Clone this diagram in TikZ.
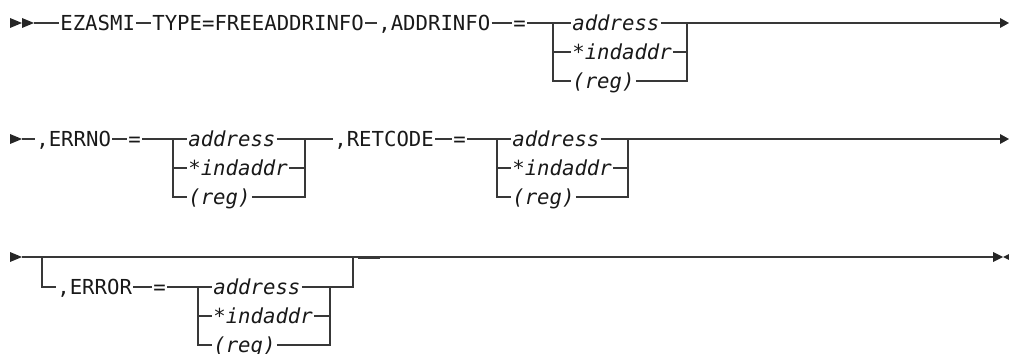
\documentclass[tikz,border=0pt]{standalone}
\usepackage{fontspec}
\newfontfamily\railfont{DejaVu Sans Mono}
\usetikzlibrary{positioning}

\tikzset{
  rail/.style={draw=black!78, line width=1.15pt},
  tip/.style={fill=black!85},
  kw/.style={font=\railfont\fontsize{15.5}{17}\selectfont, text=black!90, inner sep=0pt, inner xsep=0.8pt, text height=11.3pt, text depth=0pt, anchor=west},
  var/.style={kw, font=\railfont\itshape\fontsize{15.5}{17}\selectfont},
}

\begin{document}
\begin{tikzpicture}[x=0.75pt, y=-0.75pt]
    \useasboundingbox (0,0) rectangle (1009,353);

    % first line
    \fill[tip] (10,18) -- (22,23) -- (10,28) -- cycle;
    \fill[tip] (22,18) -- (34,23) -- (22,28) -- cycle;
    \coordinate (start1) at (34,23);
    \node[kw] (ezasmi) at (59,23) {EZASMI};
    \node[kw] (type) at (151,23) {TYPE=FREEADDRINFO};
    \node[kw] (addrinfo) at (377,23) {,ADDRINFO};
    \node[kw] (eqA) at (512,23) {=};
    \node[var] (addrA) at (571,23) {address};
    \node[var] (indA) at (571,52) {*indaddr};
    \node[var] (regA) at (571,81) {(reg)};
    \coordinate (forkA) at (553,23);
    \coordinate (joinA) at (687,23);
    \coordinate (end1) at (1000,23);
    \fill[tip] (1000,18) -- (1009,23) -- (1000,28) -- cycle;

    \draw[rail] (start1) -- (ezasmi);
    \draw[rail] (ezasmi) -- (type);
    \draw[rail] (type) -- (addrinfo);
    \draw[rail] (addrinfo) -- (eqA);
    \draw[rail] (eqA) -- (addrA);
    \draw[rail] (addrA) -- (joinA) -- (end1);
    \draw[rail] (forkA) |- (indA);
    \draw[rail] (forkA) |- (regA);
    \draw[rail] (indA) -| (joinA);
    \draw[rail] (regA) -| (joinA);

    % second line
    \fill[tip] (10,134) -- (22,139) -- (10,144) -- cycle;
    \coordinate (start2) at (22,139);
    \node[kw] (errno) at (35,139) {,ERRNO};
    \node[kw] (eqB) at (127,139) {=};
    \node[var] (addrB) at (187,139) {address};
    \node[var] (indB) at (187,168) {*indaddr};
    \node[var] (regB) at (187,197) {(reg)};
    \coordinate (forkB) at (173,139);
    \coordinate (joinB) at (305,139);
    \node[kw] (retcode) at (333,139) {,RETCODE};
    \node[kw] (eqC) at (452,139) {=};
    \node[var] (addrC) at (511,139) {address};
    \node[var] (indC) at (511,168) {*indaddr};
    \node[var] (regC) at (511,197) {(reg)};
    \coordinate (forkC) at (497,139);
    \coordinate (joinC) at (628,139);
    \coordinate (end2) at (1000,139);
    \fill[tip] (1000,134) -- (1009,139) -- (1000,144) -- cycle;

    \draw[rail] (start2) -- (errno);
    \draw[rail] (errno) -- (eqB);
    \draw[rail] (eqB) -- (addrB);
    \draw[rail] (addrB) -- (joinB) -- (retcode);
    \draw[rail] (forkB) |- (indB);
    \draw[rail] (forkB) |- (regB);
    \draw[rail] (indB) -| (joinB);
    \draw[rail] (regB) -| (joinB);
    \draw[rail] (retcode) -- (eqC);
    \draw[rail] (eqC) -- (addrC);
    \draw[rail] (addrC) -- (joinC) -- (end2);
    \draw[rail] (forkC) |- (indC);
    \draw[rail] (forkC) |- (regC);
    \draw[rail] (indC) -| (joinC);
    \draw[rail] (regC) -| (joinC);

    % third line, optional ERROR
    \fill[tip] (10,252) -- (22,257) -- (10,262) -- cycle;
    \coordinate (start3) at (22,257);
    \coordinate (optL) at (42,257);
    \coordinate (optR) at (353,257);
    \node[kw] (error) at (56,287) {,ERROR};
    \node[kw] (eqD) at (152,287) {=};
    \node[var] (addrD) at (212,287) {address};
    \node[var] (indD) at (212,316) {*indaddr};
    \node[var] (regD) at (212,345) {(reg)};
    \coordinate (forkD) at (198,287);
    \coordinate (joinD) at (330,287);
    \coordinate (end3) at (993,257);
    \fill[tip] (993,252) -- (1003,257) -- (993,262) -- cycle;
    \fill[tip] (1009,254) -- (1003,257) -- (1009,260) -- cycle;

    \draw[rail] (start3) -- (end3);
    \draw[rail] (optL) |- (error);
    \draw[rail] (error) -- (eqD);
    \draw[rail] (eqD) -- (addrD);
    \draw[rail] (addrD) -- (joinD) -| (optR);
    \draw[rail] (forkD) |- (indD);
    \draw[rail] (forkD) |- (regD);
    \draw[rail] (indD) -| (joinD);
    \draw[rail] (regD) -| (joinD);
    \draw[rail, line width=1.4pt] (358,258) -- (380,258);
\end{tikzpicture}
\end{document}
